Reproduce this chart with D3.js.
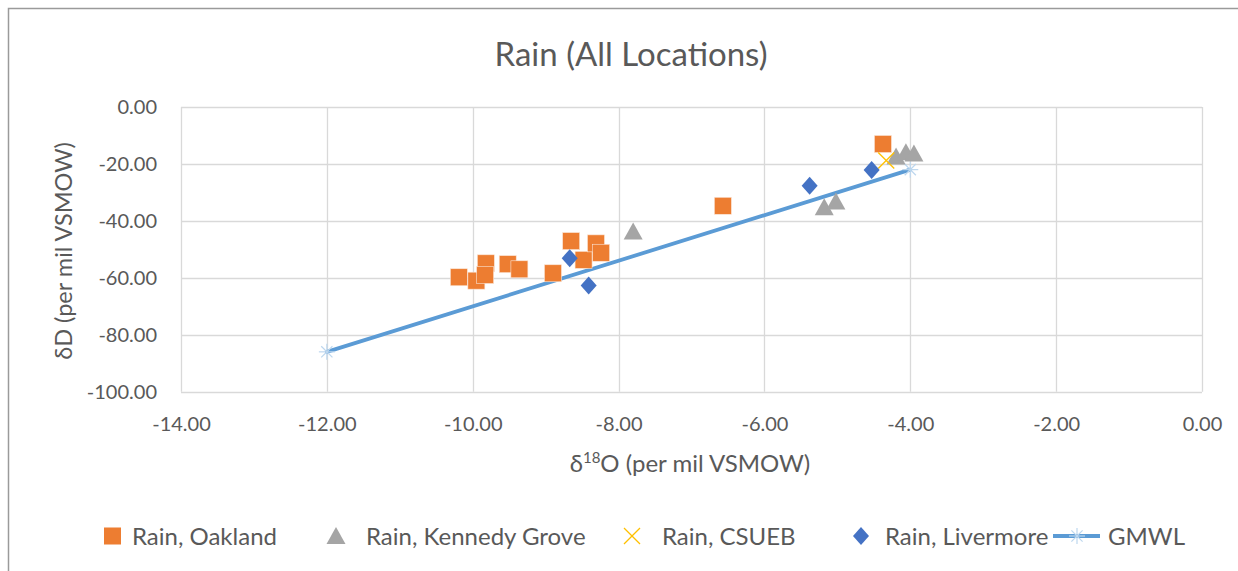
<!DOCTYPE html>
<html><head><meta charset="utf-8">
<script src="https://cdn.jsdelivr.net/npm/d3@7/dist/d3.min.js"></script>
<style>body{margin:0;background:#fff}svg{display:block}text{font-family:Lato,"Open Sans",sans-serif;fill:#595959}</style>
</head><body><svg id="c" width="1238" height="571"></svg>
<script>
const title = "Rain (All Locations)";
const xTicks = [-14,-12,-10,-8,-6,-4,-2,0];
const yTicks = [0,-20,-40,-60,-80,-100];
const oaklandX = [-10.19,-9.95,-9.82,-9.83,-9.52,-9.36,-8.90,-8.65,-8.48,-8.31,-8.24,-6.57,-4.375];
const oaklandY = [-59.8,-61.0,-54.9,-59.0,-55.2,-57.0,-58.4,-47.1,-53.7,-47.9,-51.2,-34.7,-13.0];
const kennedyX = [-7.80,-5.18,-5.02,-4.195,-4.06,-3.95];
const kennedyY = [-43.7,-35.2,-33.2,-17.4,-15.9,-16.3];
const csuebX = [-4.33];
const csuebY = [-18.8];
const livermoreX = [-8.67,-8.41,-5.38,-4.53];
const livermoreY = [-53.1,-62.7,-27.7,-22.1];
const gmwlX = [-12,-4];
const gmwlY = [-86,-22];

const svg = d3.select("#c");
const x = d3.scaleLinear().domain([-14,0]).range([181,1202]);
const y = d3.scaleLinear().domain([-100,0]).range([391.7,107]);

// outer border
svg.append("rect").attr("x",8.5).attr("y",8.5).attr("width",1300).attr("height",700)
  .attr("fill","none").attr("stroke","#9a9a9a").attr("stroke-width",1.5);

// gridlines
const g = svg.append("g");
g.selectAll(".hg").data(yTicks).join("line")
  .attr("x1",x(-14)).attr("x2",x(0)).attr("y1",d=>Math.round(y(d))+0.5).attr("y2",d=>Math.round(y(d))+0.5)
  .attr("stroke","#d9d9d9").attr("stroke-width",1.3);
g.selectAll(".vg").data(xTicks).join("line")
  .attr("y1",y(0)).attr("y2",y(-100)).attr("x1",d=>Math.round(x(d))+0.5).attr("x2",d=>Math.round(x(d))+0.5)
  .attr("stroke","#d9d9d9").attr("stroke-width",1.3);

const fmt = d => d.toFixed(2);
const xAxis = d3.axisBottom(x).tickValues(xTicks).tickFormat(fmt).tickSize(0).tickPadding(25);
const xa = svg.append("g").attr("transform",`translate(0,${y(-100)})`).call(xAxis);
xa.select(".domain").remove();
xa.selectAll("text").attr("font-size",20).style("fill","#595959").style("font-family","Lato");
const yAxis = d3.axisLeft(y).tickValues(yTicks).tickFormat(fmt).tickSize(0).tickPadding(24);
const ya = svg.append("g").attr("transform",`translate(${x(-14)},0)`).call(yAxis);
ya.select(".domain").remove();
ya.selectAll("text").attr("font-size",20).style("fill","#595959").style("font-family","Lato");

// title
svg.append("text").attr("x",631).attr("y",66).attr("text-anchor","middle").attr("font-size",33).text(title);

// axis titles
const xt = svg.append("text").attr("x",690).attr("y",472).attr("text-anchor","middle").attr("font-size",24);
xt.append("tspan").text("δ");
xt.append("tspan").attr("font-size",15).attr("dy",-9).text("18");
xt.append("tspan").attr("dy",9).text("O (per mil VSMOW)");
svg.append("text").attr("transform","translate(72,251) rotate(-90)").attr("text-anchor","middle").attr("font-size",23.5).text("δD (per mil VSMOW)");

// GMWL line
const line = d3.line().x(d=>x(d[0])).y(d=>y(d[1]));
const gm = gmwlX.map((v,i)=>[v,gmwlY[i]]);
svg.append("path").attr("d",line(gm)).attr("fill","none").attr("stroke","#5b9bd5").attr("stroke-width",3.8).attr("stroke-linecap","round");
function star(sel,cx,cy,r){
  const s = sel.append("g").attr("transform",`translate(${cx},${cy})`).attr("stroke","#bdd7ee").attr("stroke-width",1.2);
  [[0,1],[1,0],[0.7,0.7],[0.7,-0.7]].forEach(([a,b])=>s.append("line").attr("x1",-a*r).attr("y1",-b*r).attr("x2",a*r).attr("y2",b*r));
}
gm.forEach(d=>star(svg,x(d[0]),y(d[1]),8));

// Oakland squares
svg.append("g").selectAll("rect").data(oaklandX.map((v,i)=>[v,oaklandY[i]])).join("rect")
  .attr("x",d=>x(d[0])-8.5).attr("y",d=>y(d[1])-8.5).attr("width",17).attr("height",17)
  .attr("fill","#ed7d31").attr("stroke","#fbe5d6").attr("stroke-width",0.6);
// Kennedy triangles
const tri = "M0,-9L9.5,8L-9.5,8Z";
svg.append("g").selectAll("path").data(kennedyX.map((v,i)=>[v,kennedyY[i]])).join("path")
  .attr("d",tri).attr("transform",d=>`translate(${x(d[0])},${y(d[1])})`).attr("fill","#a5a5a5");
// CSUEB x
svg.append("g").selectAll("g").data(csuebX.map((v,i)=>[v,csuebY[i]])).join("g")
  .attr("transform",d=>`translate(${x(d[0])},${y(d[1])})`)
  .each(function(){const s=d3.select(this);s.append("line").attr("x1",-8).attr("y1",-8).attr("x2",8).attr("y2",8);s.append("line").attr("x1",-8).attr("y1",8).attr("x2",8).attr("y2",-8);})
  .attr("stroke","#ffc000").attr("stroke-width",1.3);
// Livermore diamonds
const dia = "M0,-9L8,0L0,9L-8,0Z";
svg.append("g").selectAll("path").data(livermoreX.map((v,i)=>[v,livermoreY[i]])).join("path")
  .attr("d",dia).attr("transform",d=>`translate(${x(d[0])},${y(d[1])})`).attr("fill","#4472c4");

// legend
const ly = 536, fs = 24, tdy = 8.5;
const lg = svg.append("g");
lg.append("rect").attr("x",104).attr("y",ly-8.5).attr("width",17).attr("height",17).attr("fill","#ed7d31");
lg.append("text").attr("x",132).attr("y",ly+tdy).attr("font-size",fs).text("Rain, Oakland");
lg.append("path").attr("d",tri).attr("transform",`translate(336,${ly})`).attr("fill","#a5a5a5");
lg.append("text").attr("x",366).attr("y",ly+tdy).attr("font-size",fs).text("Rain, Kennedy Grove");
const lx = lg.append("g").attr("transform",`translate(632,${ly})`).attr("stroke","#ffc000").attr("stroke-width",1.3);
lx.append("line").attr("x1",-8).attr("y1",-8).attr("x2",8).attr("y2",8);
lx.append("line").attr("x1",-8).attr("y1",8).attr("x2",8).attr("y2",-8);
lg.append("text").attr("x",662).attr("y",ly+tdy).attr("font-size",fs).text("Rain, CSUEB");
lg.append("path").attr("d",dia).attr("transform",`translate(861,${ly})`).attr("fill","#4472c4");
lg.append("text").attr("x",885).attr("y",ly+tdy).attr("font-size",fs).text("Rain, Livermore");
lg.append("line").attr("x1",1053).attr("x2",1100).attr("y1",ly).attr("y2",ly).attr("stroke","#5b9bd5").attr("stroke-width",3.8);
star(lg,1077,ly,8);
lg.append("text").attr("x",1108).attr("y",ly+tdy).attr("font-size",fs).text("GMWL");
</script></body></html>
